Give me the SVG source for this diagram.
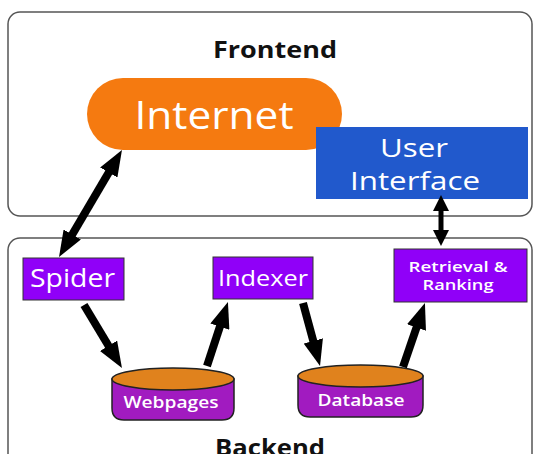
<svg xmlns="http://www.w3.org/2000/svg" width="535" height="454" viewBox="0 0 535 454">
<style>
text{font-family:"Open Sans","Noto Sans","DejaVu Sans",sans-serif;text-anchor:middle}
.frame{fill:#fff;stroke:#555;stroke-width:1.5}
.title{font-weight:bold;font-size:23px;fill:#111}
.proc{fill:#9000F8;stroke:#333;stroke-width:1}
.wt{fill:#fff}
.sb{font-weight:600}
.cylb{fill:#A11BC0;stroke:#222;stroke-width:1.5}
.cylt{fill:#E0821D;stroke:#222;stroke-width:1.5}
.conn{stroke:#000;stroke-width:8;fill:none}
.thin{stroke:#000;stroke-width:5;fill:none}
</style>
<defs>
<marker id="ah" viewBox="0 0 26 20" refX="4" refY="10" markerWidth="26" markerHeight="20" orient="auto-start-reverse" markerUnits="userSpaceOnUse">
<path d="M0,0 L26,10 L0,20 z" fill="#000"/>
</marker>
<marker id="as" viewBox="0 0 16 16" refX="3" refY="8" markerWidth="16" markerHeight="16" orient="auto-start-reverse" markerUnits="userSpaceOnUse">
<path d="M0,0 L16,8 L0,16 z" fill="#000"/>
</marker>
</defs>
<rect class="frame" x="8" y="12" width="524" height="204" rx="12"/>
<rect class="frame" x="8" y="238" width="524" height="230" rx="12"/>
<text class="title" x="275" y="58" textLength="124" lengthAdjust="spacingAndGlyphs">Frontend</text>
<text class="title" x="270" y="456" textLength="110" lengthAdjust="spacingAndGlyphs">Backend</text>

<g id="internet">
<rect x="87" y="78" width="255" height="72" rx="36" fill="#F57A10"/>
<text class="wt" x="214" y="129" font-size="39" textLength="159" lengthAdjust="spacingAndGlyphs">Internet</text>
</g>
<g id="ui">
<rect x="316" y="127" width="212" height="72" fill="#2159CC"/>
<text class="wt" x="414" y="157" font-size="25" textLength="68" lengthAdjust="spacingAndGlyphs">User</text>
<text class="wt" x="415" y="190" font-size="25" textLength="130" lengthAdjust="spacingAndGlyphs">Interface</text>
</g>
<g id="spider">
<rect class="proc" x="23" y="258" width="101" height="42"/>
<text class="wt" x="72.5" y="287" font-size="25" textLength="85" lengthAdjust="spacingAndGlyphs">Spider</text>
</g>
<g id="indexer">
<rect class="proc" x="213" y="257" width="100" height="42"/>
<text class="wt" x="263" y="286" font-size="22" textLength="90" lengthAdjust="spacingAndGlyphs">Indexer</text>
</g>
<g id="retrieval">
<rect class="proc" x="394" y="249" width="133" height="53"/>
<text class="wt sb" x="458" y="272" font-size="15" textLength="99" lengthAdjust="spacingAndGlyphs">Retrieval &amp;</text>
<text class="wt sb" x="458" y="290" font-size="15" textLength="71" lengthAdjust="spacingAndGlyphs">Ranking</text>
</g>
<g id="webpages">
<path class="cylb" d="M112,379 L112,408 Q112,420 124,420 L222,420 Q234,420 234,408 L234,379 Z"/>
<ellipse class="cylt" cx="173" cy="379" rx="61" ry="11"/>
<text class="wt sb" x="171" y="408" font-size="16" textLength="95" lengthAdjust="spacingAndGlyphs">Webpages</text>
</g>
<g id="database">
<path class="cylb" d="M298,376 L298,405 Q298,417 310,417 L411,417 Q423,417 423,405 L423,376 Z"/>
<ellipse class="cylt" cx="360.5" cy="376" rx="62.5" ry="11"/>
<text class="wt sb" x="361" y="406" font-size="16" textLength="87" lengthAdjust="spacingAndGlyphs">Database</text>
</g>

<g id="connectors">
<line class="conn" x1="110.8" y1="169" x2="70.2" y2="238" marker-start="url(#ah)" marker-end="url(#ah)"/>
<line class="thin" x1="441" y1="208" x2="441" y2="233" marker-start="url(#as)" marker-end="url(#as)"/>
<line class="conn" x1="84" y1="305" x2="110.6" y2="349.2" marker-end="url(#ah)"/>
<line class="conn" x1="207" y1="366" x2="221.1" y2="322.9" marker-end="url(#ah)"/>
<line class="conn" x1="303" y1="303" x2="314.3" y2="344.8" marker-end="url(#ah)"/>
<line class="conn" x1="403" y1="367" x2="417.8" y2="323.8" marker-end="url(#ah)"/>
</g>
</svg>
